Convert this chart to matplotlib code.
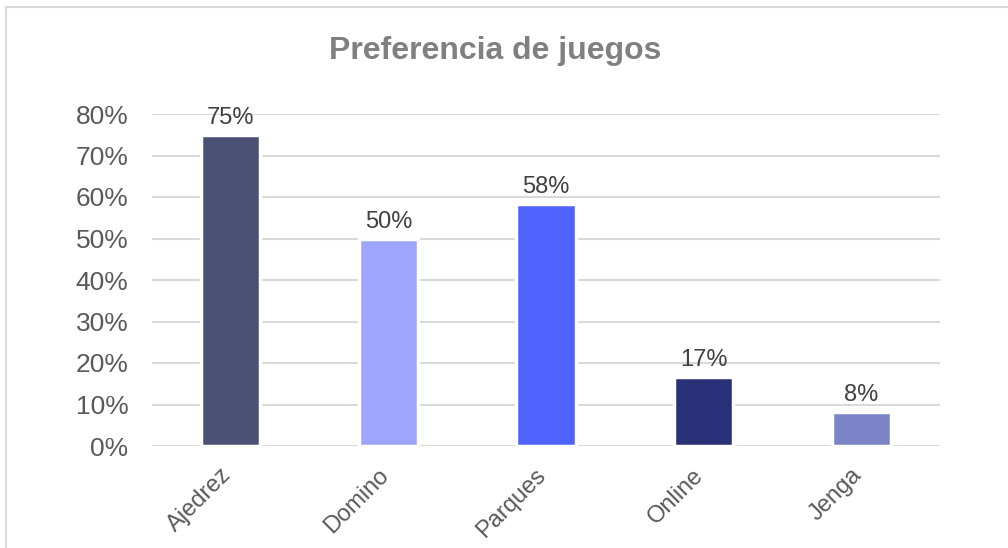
import matplotlib
matplotlib.use("Agg")
import matplotlib.pyplot as plt
from matplotlib.lines import Line2D
from matplotlib.ticker import PercentFormatter
from matplotlib.transforms import ScaledTranslation

categories = ["Ajedrez", "Domino", "Parques", "Online", "Jenga"]
values = [0.75, 0.50, 0.583, 0.167, 0.083]
labels = ["75%", "50%", "58%", "17%", "8%"]
colors = ["#4B5175", "#9DA5FC", "#4F62FD", "#283077", "#7A84C6"]
yticks = [0, 0.1, 0.2, 0.3, 0.4, 0.5, 0.6, 0.7, 0.8]

plt.rcParams['font.family'] = ['Liberation Sans', 'DejaVu Sans']

W, H = 1008, 548
fig = plt.figure(figsize=(W / 100, H / 100), dpi=100)
ax = fig.add_axes([152 / W, 1 - 446 / H, (940 - 152) / W, (446 - 114) / H])

x = list(range(len(categories)))
ax.bar(x, values, width=0.375, color=colors, edgecolor="white", linewidth=2.5, zorder=3)
for xi, v, lab in zip(x, values, labels):
    ax.annotate(lab, (xi, v), xytext=(0, 4), textcoords="offset points",
                ha="center", va="bottom", fontsize=17, color="#404040")

ax.set_xlim(-0.5, len(categories) - 0.5)
ax.set_ylim(0, 0.8)
ax.set_yticks(yticks)
ax.yaxis.set_major_formatter(PercentFormatter(1.0, decimals=0))
ax.set_xticks(x)
ax.set_xticklabels(categories, rotation=45, ha="right", rotation_mode="anchor")
ax.tick_params(axis="y", length=0, pad=17, labelsize=19, labelcolor="#595959")
ax.tick_params(axis="x", length=0, pad=13, labelsize=17, labelcolor="#595959")
off = ScaledTranslation(-8 / 72, 0, fig.dpi_scale_trans)
for lab in ax.get_xticklabels():
    lab.set_transform(lab.get_transform() + off)
ax.grid(axis="y", color="#D9D9D9", linewidth=1.5, zorder=0)
ax.set_axisbelow(True)
for s in ax.spines.values():
    s.set_visible(False)

fig.text(495 / W, 1 - 51 / H, "Preferencia de juegos", ha="center", va="center",
         fontsize=23, fontweight="bold", color="#808080")

fig.add_artist(Line2D([6 / W, 1], [1 - 7 / H, 1 - 7 / H], color="#D9D9D9", linewidth=1.5,
                      transform=fig.transFigure))
fig.add_artist(Line2D([6 / W, 6 / W], [0, 1 - 7 / H], color="#D9D9D9", linewidth=1.5,
                      transform=fig.transFigure))

fig.savefig("out.png", dpi=100)
